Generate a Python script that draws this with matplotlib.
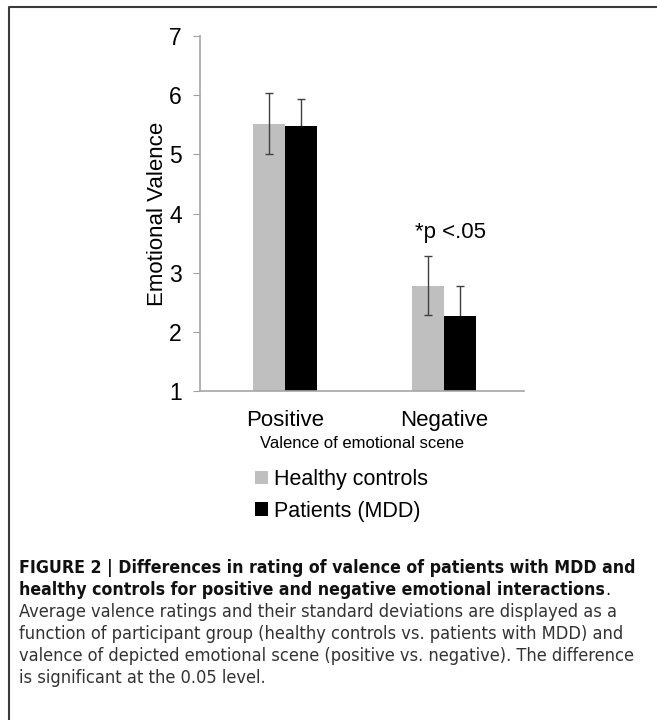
import matplotlib
matplotlib.use("Agg")
import matplotlib.pyplot as plt
import numpy as np
from matplotlib.lines import Line2D
from matplotlib import font_manager

plt.rcParams['font.family'] = ['Liberation Sans', 'DejaVu Sans']

categories = ['Positive', 'Negative']
healthy_mean = [5.52, 2.78]
healthy_sd = [0.51, 0.50]
patients_mean = [5.48, 2.26]
patients_sd = [0.46, 0.52]
groups = ['Healthy controls', 'Patients (MDD)']

fig = plt.figure(figsize=(6.57, 7.2), dpi=100)
ax = fig.add_axes([0.3044, 0.4569, 0.4932, 0.4931])

x = np.arange(len(categories))
w = 0.2
ax.bar(x - w / 2, np.array(healthy_mean) - 1, w, bottom=1, color='#bfbfbf', label=groups[0], zorder=2)
ax.bar(x + w / 2, np.array(patients_mean) - 1, w, bottom=1, color='black', label=groups[1], zorder=2)
ax.errorbar(x - w / 2, healthy_mean, yerr=healthy_sd, fmt='none', ecolor='#404040',
            elinewidth=1, capsize=3, capthick=1, zorder=3)
ax.errorbar(x + w / 2, patients_mean, yerr=patients_sd, fmt='none', ecolor='#404040',
            elinewidth=1, capsize=3, capthick=1, zorder=1)

ax.set_xlim(-0.535, 1.503)
ax.set_ylim(1, 7)
ax.set_yticks(range(1, 8))
ax.set_xticks(x)
ax.set_xticklabels(categories, fontsize=16)
ax.tick_params(axis='x', length=0, pad=14)
ax.tick_params(axis='y', labelsize=16.5, length=5, color='#a0a0a0', pad=8)
for s in ['top', 'right']:
    ax.spines[s].set_visible(False)
for s in ['left', 'bottom']:
    ax.spines[s].set_color('#a6a6a6')
    ax.spines[s].set_linewidth(1.2)

ax.set_ylabel('Emotional Valence', fontsize=16, labelpad=1)
ax.set_xlabel('Valence of emotional scene', fontsize=12, labelpad=3)
ax.text(1.04, 3.68, '*p <.05', fontsize=16, ha='center', va='center')

ax.legend(loc='upper left', bbox_to_anchor=(0.11, -0.165), frameon=False, fontsize=15.5,
          handlelength=0.6, handleheight=0.6, handletextpad=0.3, labelspacing=0.5)

# frame around figure panel
fig.add_artist(Line2D([9 / 657, 9 / 657, 1.0], [0.0, 1 - 7 / 720, 1 - 7 / 720],
                      transform=fig.transFigure, color='#3a3a3a', linewidth=1.5))

# caption: condensed face if available, sized to the reference line width
cond = font_manager.FontProperties(family='DejaVu Sans', stretch='condensed')
cond_path = font_manager.findfont(cond, fallback_to_default=False)
if 'Condensed' in cond_path:
    cap_kw = dict(family='DejaVu Sans', fontstretch='condensed')
else:
    cap_kw = dict(family=['Liberation Sans', 'DejaVu Sans'])

caption_bold = ['FIGURE 2 | Differences in rating of valence of patients with MDD and',
                'healthy controls for positive and negative emotional interactions']
caption_body = ['Average valence ratings and their standard deviations are displayed as a',
                'function of participant group (healthy controls vs. patients with MDD) and',
                'valence of depicted emotional scene (positive vs. negative). The difference',
                'is significant at the 0.05 level.']

renderer = fig.canvas.get_renderer()
probe = fig.text(0, 0, caption_bold[0], fontsize=13.5, fontweight='bold', **cap_kw)
wpx = probe.get_window_extent(renderer).width
probe.remove()
size_bold = min(13.5 * 617 / wpx, 14)
probe = fig.text(0, 0, caption_body[2], fontsize=13.5, **cap_kw)
wpx = probe.get_window_extent(renderer).width
probe.remove()
size_body = min(13.5 * 616 / wpx, 14)

last = None
for i, line in enumerate(caption_bold):
    last = fig.text(19 / 657, 1 - (568 + 22 * i) / 720, line, fontsize=size_bold, fontweight='bold',
                    va='center', color='#111111', **cap_kw)
# regular-weight period after the bold title
ext = last.get_window_extent(renderer)
fig.text(ext.x1 / fig.bbox.width, 1 - 590 / 720, '.', fontsize=size_body,
         va='center', color='#111111', **cap_kw)
for i, line in enumerate(caption_body):
    fig.text(19 / 657, 1 - (612 + 22 * i) / 720, line, fontsize=size_body,
             va='center', color='#333333', **cap_kw)

fig.savefig('out.png', dpi=100)
